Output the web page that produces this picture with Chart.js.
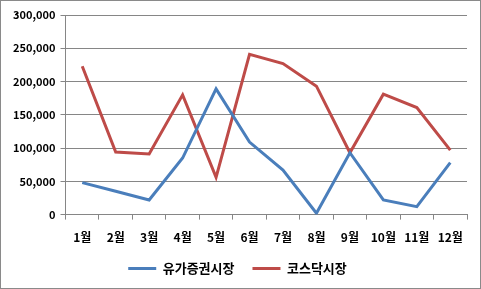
<!DOCTYPE html>
<html><head><meta charset="utf-8">
<script src="https://cdn.jsdelivr.net/npm/chart.js@4"></script>
<style>
html,body{margin:0;padding:0;background:#fff;}
#wrap{width:481px;height:289px;box-sizing:border-box;border:1px solid #8a8a8a;position:relative;}
canvas{display:block;}
</style></head><body>
<div id="wrap"><canvas id="c" width="479" height="287"></canvas></div>
<script>
const categories = ['1월','2월','3월','4월','5월','6월','7월','8월','9월','10월','11월','12월'];
const kospi = [48000, 35000, 22000, 85000, 189000, 109000, 67000, 2000, 93000, 22000, 12000, 78000];
const kosdaq = [223000, 94000, 91000, 180000, 56000, 241000, 227000, 193000, 93000, 181000, 161000, 97000];
const seriesNames = ['유가증권시장','코스닥시장'];
const yTicks = [0, 50000, 100000, 150000, 200000, 250000, 300000];

const fam = "'Noto Sans CJK KR', 'DejaVu Sans', sans-serif";
const legendFitPatch = {
  id: 'legendFitPatch',
  beforeLayout(chart) {
    const lg = chart.legend;
    if (lg && !lg._patched) {
      const origFit = lg.fit;
      lg.fit = function() { origFit.call(this); this.height -= 12; };
      const origDraw = lg._draw;
      lg._draw = function() { this.top -= 12; try { origDraw.call(this); } finally { this.top += 12; } };
      lg._patched = true;
    }
  }
};
new Chart(document.getElementById('c'), {
  type: 'line',
  data: {
    labels: categories,
    datasets: [
      {label: seriesNames[0], data: kospi, borderColor: '#4A7EBB', backgroundColor: '#4A7EBB', borderWidth: 3, pointRadius: 0, tension: 0},
      {label: seriesNames[1], data: kosdaq, borderColor: '#BE4B48', backgroundColor: '#BE4B48', borderWidth: 3, pointRadius: 0, tension: 0}
    ]
  },
  plugins: [legendFitPatch],
  options: {
    responsive: false,
    animation: false,
    layout: {padding: {left: 7, right: 13, top: 14, bottom: 3}},
    plugins: {
      legend: {
        position: 'bottom',
        labels: {usePointStyle: true, pointStyle: 'line', pointStyleWidth: 28, boxWidth: 28, color: '#000', font: {family: fam, size: 13, weight: 'bold'}, padding: 18}
      },
      tooltip: {enabled: false}
    },
    scales: {
      x: {
        offset: true,
        grid: {offset: true, drawOnChartArea: false, color: '#868686', tickLength: 5},
        border: {color: '#868686'},
        ticks: {color: '#000', font: {family: fam, size: 12, weight: 'bold'}, padding: 11, maxRotation: 0}
      },
      y: {
        min: 0, max: 300000,
        afterBuildTicks: (s) => { s.ticks = yTicks.map(v => ({value: v})); },
        grid: {color: '#868686', tickLength: 5},
        border: {color: '#868686'},
        ticks: {color: '#000', font: {family: fam, size: 11, weight: 'bold'}, padding: 5, callback: v => v.toLocaleString('en-US')}
      }
    }
  }
});
</script>
</body></html>
